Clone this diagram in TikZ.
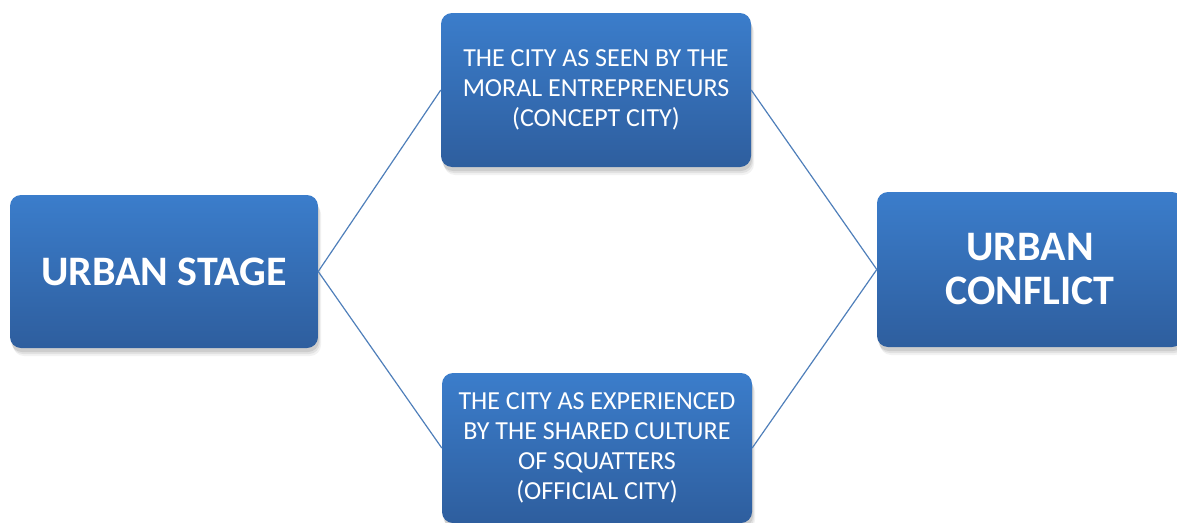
\documentclass[tikz,border=0pt]{standalone}
\usepackage{fontspec}
\setmainfont{Carlito}
\definecolor{boxtop}{HTML}{3B7DCB}
\definecolor{boxbot}{HTML}{2E5E9E}
\definecolor{linkblue}{HTML}{4F7FBA}
\begin{document}
\begin{tikzpicture}[x=1pt,y=-1pt,
  card/.style={rounded corners=11pt, top color=boxtop, bottom color=boxbot,
    text=white, align=center, inner sep=0pt,
    preaction={fill=black, opacity=0.05, transform canvas={shift={(3pt,-8pt)}}},
    preaction={fill=black, opacity=0.07, transform canvas={shift={(2pt,-6pt)}}},
    preaction={fill=black, opacity=0.09, transform canvas={shift={(1pt,-4pt)}}}},
  bigtxt/.style={font=\fontsize{42}{44}\selectfont\bfseries},
  smalltxt/.style={font=\fontsize{26}{30}\selectfont},
  link/.style={draw=linkblue, line width=1.2pt}]
\useasboundingbox (0,0) rectangle (1177,522);

% the four boxes
\node[card, bigtxt, minimum width=308pt, minimum height=153pt] (stage) at (164,271.5)
  {URBAN STAGE};
\node[card, smalltxt, minimum width=310pt, minimum height=154pt] (concept) at (596,90)
  {THE CITY AS SEEN BY THE\\MORAL ENTREPRENEURS\\(CONCEPT CITY)};
\node[card, smalltxt, minimum width=310pt, minimum height=150pt] (official) at (597,448)
  {THE CITY AS EXPERIENCED\\BY THE SHARED CULTURE\\OF SQUATTERS\\(OFFICIAL CITY)};
\node[card, bigtxt, minimum width=306pt, minimum height=155pt] (conflict) at (1030,269.5)
  {URBAN\\CONFLICT};

% connectors
\draw[link] (stage.east) -- (concept.west);
\draw[link] (stage.east) -- (official.west);
\draw[link] (concept.east) -- (conflict.west);
\draw[link] (official.east) -- (conflict.west);
\end{tikzpicture}
\end{document}
